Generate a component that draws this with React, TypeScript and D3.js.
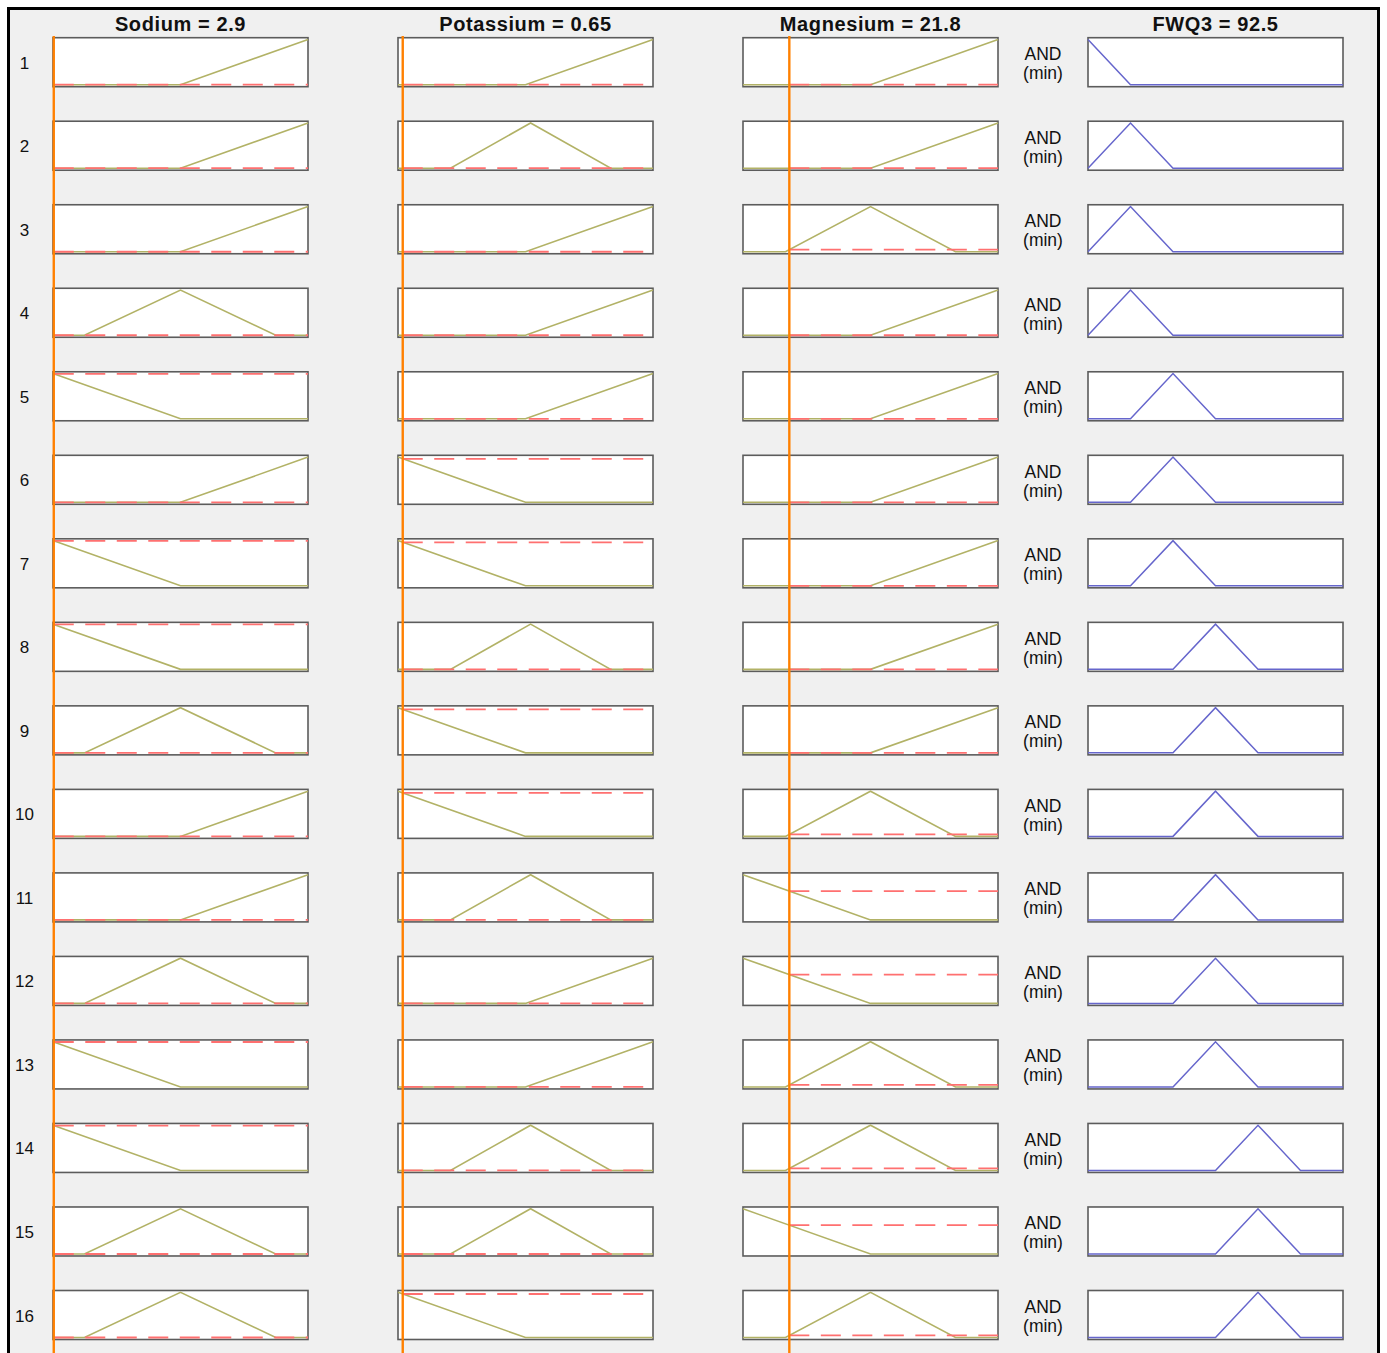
import React from 'react';
import * as d3 from 'd3';

// ---------- data ----------
const inputNames = ['Sodium', 'Potassium', 'Magnesium'];
const inputValues = [2.9, 0.65, 21.8];
const inputDomains: [number, number][] = [[2, 302], [0, 35], [0, 120]];

// trapezoid params [a, b, c, d]
const sodiumMFs: Record<string, number[]> = {
  low: [2, 2, 2, 152],
  medium: [39, 152, 152, 264],
  high: [152, 302, 302, 302],
};
const potassiumMFs: Record<string, number[]> = {
  low: [0, 0, 0, 17.5],
  medium: [7.2, 18.2, 18.2, 29.2],
  high: [17.5, 35, 35, 35],
};
const magnesiumMFs: Record<string, number[]> = {
  low: [0, 0, 0, 60],
  medium: [20, 60, 60, 100],
  high: [60, 120, 120, 120],
};

const outputName = 'FWQ3';
const outputValue = 92.5;
const outputDomain: [number, number] = [0, 120];
const outputMFs: Record<string, number[]> = {
  o1: [-20, 0, 0, 20],
  o2: [0, 20, 20, 40],
  o3: [20, 40, 40, 60],
  o4: [40, 60, 60, 80],
  o5: [60, 80, 80, 100],
};

const sodiumRule = ['high', 'high', 'high', 'medium', 'low', 'high', 'low', 'low', 'medium', 'high', 'high', 'medium', 'low', 'low', 'medium', 'medium'];
const potassiumRule = ['high', 'medium', 'high', 'high', 'high', 'low', 'low', 'medium', 'low', 'low', 'medium', 'high', 'high', 'medium', 'medium', 'low'];
const magnesiumRule = ['high', 'high', 'medium', 'high', 'high', 'high', 'high', 'high', 'high', 'medium', 'low', 'low', 'medium', 'medium', 'low', 'medium'];
const outputRule = ['o1', 'o2', 'o2', 'o2', 'o3', 'o3', 'o3', 'o4', 'o4', 'o4', 'o4', 'o4', 'o4', 'o5', 'o5', 'o5'];
const ruleOperator = ['AND', '(min)'];

// ---------- helpers ----------
const trap = (p: number[], x: number) => {
  const [a, b, c, d] = p;
  if (x < a || x > d) return 0;
  if (x < b) return (x - a) / (b - a);
  if (x <= c) return 1;
  return (d - x) / (d - c);
};

const mfPoints = (p: number[], dom: [number, number]) => {
  const xs = Array.from(new Set([dom[0], ...p, dom[1]]))
    .filter((v) => v >= dom[0] && v <= dom[1])
    .sort((a, b) => a - b);
  return xs.map((x) => [x, trap(p, x)] as [number, number]);
};

const FONT = '"Liberation Sans", Arial, Helvetica, sans-serif';
const W = 1387;
const H = 1353;
const BOX_W = 255;
const BOX_H = 49;

const rowTop = d3.scaleLinear().domain([0, 15]).range([37.7, 1290.5]);
const colLeft = d3.scaleLinear().domain([0, 3]).range([53, 1088]);

const OLIVE = '#b2b266';
const BLUE = '#6666cc';
const RED = '#ff7070';
const ORANGE = '#ff8000';
const BORDER = '#5c5c5c';

export default function App() {
  const mfSets = [sodiumMFs, potassiumMFs, magnesiumMFs];
  const rules = [sodiumRule, potassiumRule, magnesiumRule];
  const rows = d3.range(16);

  const line = d3.line<[number, number]>();

  return (
    <svg
      width={W}
      height={H}
      style={{ position: 'absolute', left: 0, top: 0, display: 'block' }}
      fontFamily={FONT}
    >
      <rect x={0} y={0} width={W} height={H} fill="#ffffff" />
      <rect x={8.5} y={8.5} width={1370} height={1420} fill="#f0f0f0" stroke="#000" strokeWidth={3} />

      {/* headers */}
      {inputNames.map((n, i) => (
        <text
          key={n}
          x={colLeft(i) + BOX_W / 2}
          y={31}
          textAnchor="middle"
          fontWeight="bold"
          fontSize={20}
          letterSpacing={0.6}
          fill="#111"
        >
          {`${n} = ${inputValues[i]}`}
        </text>
      ))}
      <text x={colLeft(3) + BOX_W / 2} y={31} textAnchor="middle" fontWeight="bold" fontSize={20} letterSpacing={0.6} fill="#111">
        {`${outputName} = ${outputValue}`}
      </text>

      {rows.map((r) => {
        const top = rowTop(r);
        const yS = d3.scaleLinear().domain([0, 1]).range([top + BOX_H - 2, top + 1.8]);
        return (
          <g key={r}>
            <text x={24.5} y={top + BOX_H / 2 + 6.5} textAnchor="middle" fontSize={17} fill="#111">
              {r + 1}
            </text>
            {inputNames.map((n, c) => {
              const left = colLeft(c);
              const xS = d3.scaleLinear().domain(inputDomains[c]).range([left, left + BOX_W]);
              const p = mfSets[c][rules[c][r]];
              const pts = mfPoints(p, inputDomains[c]).map(([x, y]) => [xS(x), yS(y)] as [number, number]);
              const deg = trap(p, inputValues[c]);
              const xi = xS(inputValues[c]);
              return (
                <g key={n}>
                  <rect x={left} y={top} width={BOX_W} height={BOX_H} fill="#fff" stroke={BORDER} strokeWidth={1.6} />
                  <path d={line(pts) || ''} fill="none" stroke={OLIVE} strokeWidth={1.6} />
                  <line
                    x1={xi}
                    x2={left + BOX_W}
                    y1={yS(deg)}
                    y2={yS(deg)}
                    stroke={RED}
                    strokeWidth={1.8}
                    strokeDasharray="20,11.5"
                  />
                </g>
              );
            })}
            <text x={1043} y={top + BOX_H / 2 - 2} textAnchor="middle" fontSize={17.5} fill="#111">
              {ruleOperator[0]}
            </text>
            <text x={1043} y={top + BOX_H / 2 + 17} textAnchor="middle" fontSize={17.5} fill="#111">
              {ruleOperator[1]}
            </text>
            {(() => {
              const left = colLeft(3);
              const xS = d3.scaleLinear().domain(outputDomain).range([left, left + BOX_W]);
              const p = outputMFs[outputRule[r]];
              const pts = mfPoints(p, outputDomain).map(([x, y]) => [xS(x), yS(y)] as [number, number]);
              return (
                <g>
                  <rect x={left} y={top} width={BOX_W} height={BOX_H} fill="#fff" stroke={BORDER} strokeWidth={1.6} />
                  <path d={line(pts) || ''} fill="none" stroke={BLUE} strokeWidth={1.5} />
                </g>
              );
            })()}
          </g>
        );
      })}

      {/* input value indicators */}
      {inputNames.map((n, c) => {
        const left = colLeft(c);
        const xS = d3.scaleLinear().domain(inputDomains[c]).range([left, left + BOX_W]);
        const xi = xS(inputValues[c]);
        return <line key={n} x1={xi} x2={xi} y1={36} y2={H} stroke={ORANGE} strokeWidth={2.4} />;
      })}
    </svg>
  );
}
